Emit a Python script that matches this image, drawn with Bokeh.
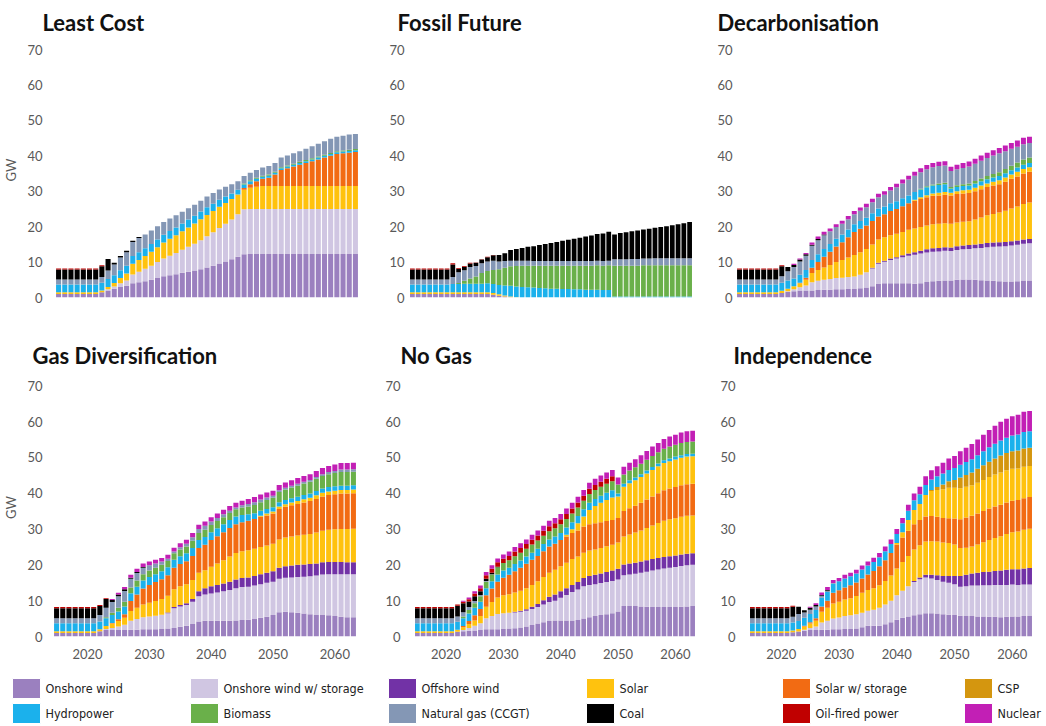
from bokeh.plotting import figure
from bokeh.layouts import column, row
from bokeh.models import ColumnDataSource, Range1d, FixedTicker
from bokeh.core.properties import value
from bokeh.embed import file_html
from bokeh.resources import INLINE

years = list(range(2015, 2064))
y_ticks = [0, 10, 20, 30, 40, 50, 60, 70]
x_ticks = [2020, 2030, 2040, 2050, 2060]

series_keys = ["on", "onst", "off", "sol", "solst", "sol2", "csp", "hyd", "bio", "gas", "coal", "oil", "nuc"]
series_colors = ["#9B80BF", "#D0C6E2", "#7232A6", "#FFC20E", "#F26B13", "#FFC20E", "#D4960F",
                 "#1BB1EC", "#6AB04A", "#8497B5", "#000000", "#C00000", "#C21FB5"]
color_of = dict(zip(series_keys, series_colors))

legend_keys = ["on", "hyd", "onst", "bio", "off", "gas", "sol", "coal", "solst", "oil", "csp", "nuc"]
legend_labels = ["Onshore wind", "Hydropower", "Onshore wind w/ storage", "Biomass", "Offshore wind",
                 "Natural gas (CCGT)", "Solar", "Coal", "Solar w/ storage", "Oil-fired power", "CSP", "Nuclear"]

# ---------------- Least Cost ----------------
lc_on = [1, 1, 1, 1, 1, 1, 1,
         1.5, 2.0, 2.5, 3.0, 3.3, 4.0, 4.3, 4.6,
         5.0, 5.5, 6.0, 6.3, 6.6, 7.0, 7.3, 7.6, 8.0, 8.5,
         9.0, 9.6, 10.2, 10.8, 11.5, 12.2, 12.3, 12.3, 12.3, 12.3,
         12.3, 12.3, 12.3, 12.3, 12.3, 12.3, 12.3, 12.3, 12.3,
         12.3, 12.3, 12.3, 12.3, 12.3]
lc_onst = [0, 0, 0, 0, 0, 0, 0,
           0, 0.3, 0.6, 1.0, 1.5, 2.5, 3.0, 3.5,
           4.0, 4.5, 5.0, 5.5, 6.0, 6.5, 7.0, 7.6, 8.2, 8.8,
           9.4, 10.0, 10.6, 11.2, 12.0, 12.7, 12.7, 12.7, 12.7, 12.7,
           12.7, 12.7, 12.7, 12.7, 12.7, 12.7, 12.7, 12.7, 12.7,
           12.7, 12.7, 12.7, 12.7, 12.7]
lc_sol = [0.5, 0.5, 0.5, 0.5, 0.5, 0.5, 0.5,
          0.5, 0.7, 1.0, 1.5, 2.0, 3.0, 3.3, 3.6,
          3.9, 4.2, 4.5, 4.8, 5.0, 5.2, 5.5, 5.7, 5.9, 6.0,
          6.0, 6.0, 5.9, 5.8, 5.6, 5.5, 6.0, 6.3, 6.5, 6.5,
          6.5, 6.5, 6.5, 6.5, 6.5, 6.5, 6.5, 6.5, 6.5,
          6.5, 6.5, 6.5, 6.5, 6.5]
lc_solst = [0, 0, 0, 0, 0, 0, 0,
            0, 0, 0, 0, 0, 0, 0, 0,
            0, 0, 0, 0, 0, 0, 0, 0, 0, 0,
            0, 0, 0, 0, 0, 0.5, 1.0, 1.5, 2.0, 2.3,
            3.2, 4.5, 5.0, 5.5, 6.0, 6.5, 7.0, 7.5, 8.0,
            8.5, 9.0, 9.2, 9.4, 9.6]
lc_hyd = [2.2, 2.2, 2.2, 2.2, 2.2, 2.2, 2.2,
          2.2, 2.2, 2.2, 2.2, 2.2, 2.2, 2.2, 2.2,
          2.2, 2.2, 2.2, 2.2, 2.2, 2.2, 2.2, 2.2, 2.2, 2.2,
          2.1, 2.0, 1.8, 1.6, 1.3, 1.0, 0.8, 0.7, 0.6, 0.6,
          0.5, 0.5, 0.5, 0.5, 0.5, 0.5, 0.5, 0.5, 0.5,
          0.5, 0.5, 0.5, 0.5, 0.5]
lc_bio = [0, 0, 0, 0, 0, 0, 0,
          0, 0, 0, 0, 0, 0, 0, 0,
          0, 0, 0, 0, 0, 0, 0, 0, 0, 0,
          0, 0, 0, 0, 0, 0.3, 0.3, 0.3, 0.3, 0.3,
          0.3, 0.3, 0.3, 0.3, 0.3, 0.3, 0.3, 0.3, 0.3,
          0.3, 0.3, 0.3, 0.3, 0.3]
lc_gas = [1.4, 1.4, 1.4, 1.4, 1.4, 1.4, 1.4,
          1.6, 2.4, 3.0, 3.6, 3.8, 4.0, 4.0, 3.9,
          3.8, 3.7, 3.6, 3.5, 3.4, 3.3, 3.2, 3.1, 3.0, 3.0,
          3.0, 2.9, 2.8, 2.6, 2.4, 2.1, 2.1, 2.2, 2.3, 2.4,
          2.5, 2.7, 2.8, 2.9, 3.0, 3.2, 3.4, 3.6, 3.8,
          4.0, 4.1, 4.2, 4.3, 4.3]
lc_coal = [2.8, 2.8, 2.8, 2.8, 2.8, 2.8, 2.8,
           3.0, 3.3, 0.5, 0.4, 0.4, 0.3, 0.3, 0,
           0, 0, 0, 0, 0, 0, 0, 0, 0, 0,
           0, 0, 0, 0, 0, 0, 0, 0, 0, 0,
           0, 0, 0, 0, 0, 0, 0, 0, 0,
           0, 0, 0, 0, 0]
lc_oil = [0.3, 0.3, 0.3, 0.3, 0.3, 0.3, 0.3,
          0.3, 0, 0, 0, 0, 0, 0, 0,
          0, 0, 0, 0, 0, 0, 0, 0, 0, 0,
          0, 0, 0, 0, 0, 0, 0, 0, 0, 0,
          0, 0, 0, 0, 0, 0, 0, 0, 0,
          0, 0, 0, 0, 0]

# ---------------- Fossil Future ----------------
ff_on = [1, 1, 1, 1, 1, 1, 1,
         1, 1, 1, 1, 1, 1, 1, 0.8,
         0.5, 0.3, 0.1, 0, 0, 0, 0, 0, 0, 0,
         0, 0, 0, 0, 0, 0, 0, 0, 0, 0,
         0, 0, 0, 0, 0, 0, 0, 0, 0,
         0, 0, 0, 0, 0]
ff_sol = [0.5, 0.5, 0.5, 0.5, 0.5, 0.5, 0.5,
          0.5, 0.5, 0.5, 0.5, 0.5, 0.5, 0.5, 0.5,
          0.4, 0.3, 0.2, 0.1, 0, 0, 0, 0, 0, 0,
          0, 0, 0, 0, 0, 0, 0, 0, 0, 0,
          0, 0, 0, 0, 0, 0, 0, 0, 0,
          0, 0, 0, 0, 0]
ff_hyd = [2.2, 2.2, 2.2, 2.2, 2.2, 2.2, 2.2,
          2.3, 2.3, 2.4, 2.4, 2.4, 2.4, 2.5, 2.5,
          2.6, 2.8, 3.0, 3.0, 3.0, 2.9, 2.8, 2.7, 2.6, 2.5,
          2.5, 2.4, 2.4, 2.3, 2.3, 2.2, 2.2, 2.2, 2.1, 2.1,
          0.3, 0.3, 0.3, 0.3, 0.3, 0.3, 0.3, 0.3, 0.3,
          0.3, 0.3, 0.3, 0.3, 0.3]
ff_bio = [0, 0, 0, 0, 0, 0, 0,
          0, 0.3, 0.8, 1.5, 2.0, 3.0, 3.5, 4.0,
          4.5, 5.0, 5.5, 5.8, 6.0, 6.1, 6.2, 6.3, 6.4, 6.5,
          6.5, 6.6, 6.6, 6.7, 6.7, 6.8, 6.8, 6.9, 6.9, 7.0,
          8.7, 8.7, 8.7, 8.7, 8.7, 8.8, 8.8, 8.8, 8.8,
          8.8, 8.8, 8.8, 8.8, 8.8]
ff_gas = [1.4, 1.4, 1.4, 1.4, 1.4, 1.4, 1.4,
          2.0, 3.0, 3.0, 3.2, 3.0, 2.8, 2.7, 2.6,
          2.2, 1.9, 1.6, 1.5, 1.4, 1.4, 1.3, 1.3, 1.3, 1.3,
          1.3, 1.3, 1.3, 1.3, 1.3, 1.3, 1.3, 1.3, 1.3, 1.3,
          1.8, 1.8, 1.8, 1.9, 1.9, 1.9, 1.9, 2.0, 2.0,
          2.0, 2.0, 2.0, 2.0, 2.0]
ff_coal = [2.8, 2.8, 2.8, 2.8, 2.8, 2.8, 2.8,
           3.5, 1.0, 1.0, 1.0, 0.9, 1.0, 1.2, 1.5,
           1.8, 2.2, 3.0, 3.3, 3.6, 3.9, 4.2, 4.5, 4.8, 5.1,
           5.4, 5.7, 6.0, 6.3, 6.6, 6.9, 7.2, 7.5, 7.8, 8.2,
           7.0, 7.4, 7.6, 7.8, 8.0, 8.2, 8.4, 8.6, 8.8,
           9.0, 9.3, 9.6, 9.9, 10.2]
ff_oil = [0.3, 0.3, 0.3, 0.3, 0.3, 0.3, 0.3,
          0.4, 0.2, 0.2, 0.2, 0.1, 0.1, 0.1, 0.1,
          0, 0, 0, 0, 0, 0, 0, 0, 0, 0,
          0, 0, 0, 0, 0, 0, 0, 0, 0, 0,
          0, 0, 0, 0, 0, 0, 0, 0, 0,
          0, 0, 0, 0, 0]

# ---------------- Decarbonisation ----------------
dc_on = [1, 1, 1, 1, 1, 1, 1,
         1.3, 1.6, 1.8, 2.0, 2.0, 2.0, 2.1, 2.2,
         2.2, 2.3, 2.3, 2.4, 2.4, 2.6, 2.8, 3.2, 3.8, 4.0,
         4.0, 4.0, 4.0, 4.0, 3.9, 4.0, 4.4, 4.6, 4.7, 4.8,
         4.8, 5.0, 5.1, 5.1, 5.0, 4.9, 4.8, 4.7, 4.6,
         4.5, 4.5, 4.6, 4.8, 4.8]
dc_onst = [0, 0, 0, 0, 0, 0, 0,
           0, 0.2, 0.5, 0.9, 1.4, 2.3, 2.6, 2.8,
           3.0, 3.2, 3.3, 3.4, 3.5, 3.8, 4.3, 5.0, 5.7, 6.1,
           6.6, 7.0, 7.4, 7.8, 8.2, 8.4, 8.3, 8.3, 8.3, 8.4,
           8.3, 8.4, 8.5, 8.6, 8.9, 9.1, 9.4, 9.6, 9.8,
           10.0, 10.2, 10.3, 10.4, 10.5]
dc_off = [0, 0, 0, 0, 0, 0, 0,
          0, 0, 0, 0, 0, 0, 0, 0,
          0, 0, 0, 0, 0, 0, 0, 0.2, 0.3, 0.3,
          0.4, 0.4, 0.5, 0.6, 0.7, 0.8, 0.9, 1.0, 1.0, 1.0,
          1.0, 1.1, 1.1, 1.1, 1.1, 1.2, 1.2, 1.2, 1.2,
          1.2, 1.2, 1.2, 1.2, 1.2]
dc_sol = [0.5, 0.5, 0.5, 0.5, 0.5, 0.5, 0.5,
          0.6, 0.7, 0.9, 1.1, 1.6, 2.6, 3.1, 3.5,
          4.0, 4.5, 5.0, 5.5, 6.1, 6.4, 6.6, 6.6, 6.6, 6.6,
          6.6, 6.6, 6.6, 6.7, 6.7, 6.7, 6.7, 6.8, 6.8, 6.8,
          6.7, 6.7, 6.7, 6.7, 7.0, 7.4, 7.8, 8.1, 8.4,
          8.8, 9.2, 9.6, 10.0, 10.3]
dc_solst = [0, 0, 0, 0, 0, 0, 0,
            0, 0, 0, 0.2, 0.6, 1.5, 2.2, 3.0,
            3.7, 4.4, 5.0, 5.7, 6.5, 6.6, 6.6, 6.6, 6.5, 6.5,
            6.8, 7.0, 7.3, 7.5, 7.8, 7.9, 8.0, 8.0, 8.0, 8.0,
            8.0, 8.0, 8.0, 8.0, 8.0, 8.0, 8.0, 8.0, 8.0,
            8.2, 8.4, 8.5, 8.6, 8.7]
dc_sol2 = [0, 0, 0, 0, 0, 0, 0,
           0, 0, 0, 0, 0, 0, 0, 0,
           0, 0, 0, 0, 0, 0, 0, 0, 0, 0,
           0, 0, 0, 0, 0.3, 0.5, 0.6, 0.7, 0.8, 0.8,
           0.8, 0.8, 0.9, 0.9, 1.0, 1.0, 1.0, 1.1, 1.1,
           1.2, 1.2, 1.3, 1.3, 1.3]
dc_hyd = [2.2, 2.2, 2.2, 2.2, 2.2, 2.2, 2.2,
          2.3, 2.3, 2.2, 2.2, 2.2, 2.2, 2.2, 2.2,
          2.2, 2.2, 2.2, 2.2, 2.2, 2.2, 2.2, 2.2, 2.2, 2.2,
          2.2, 2.2, 2.2, 2.2, 2.2, 2.2, 2.2, 2.2, 2.2, 2.2,
          1.2, 1.2, 1.2, 1.2, 1.2, 1.2, 1.2, 1.2, 1.2,
          1.2, 1.2, 1.2, 1.2, 1.2]
dc_bio = [0, 0, 0, 0, 0, 0, 0,
          0, 0, 0, 0, 0, 0, 0, 0,
          0, 0, 0, 0, 0, 0, 0, 0, 0, 0,
          0, 0, 0, 0, 0, 0.2, 0.3, 0.3, 0.4, 0.4,
          0.4, 0.5, 0.5, 0.6, 0.7, 0.8, 0.9, 1.0, 1.1,
          1.2, 1.3, 1.4, 1.5, 1.5]
dc_gas = [1.4, 1.4, 1.4, 1.4, 1.4, 1.4, 1.4,
          1.8, 2.6, 3.2, 3.8, 4.0, 4.0, 4.0, 3.9,
          3.6, 3.3, 3.0, 2.9, 2.8, 2.9, 3.0, 3.1, 3.2, 3.3,
          3.6, 3.9, 4.2, 4.5, 4.6, 4.7, 4.8, 4.9, 4.9, 4.9,
          4.5, 4.5, 4.6, 4.8, 4.9, 5.0, 5.1, 5.2, 5.3,
          5.0, 4.8, 4.5, 4.3, 4.1]
dc_coal = [2.8, 2.8, 2.8, 2.8, 2.8, 2.8, 2.8,
           2.8, 1.2, 0.6, 0.5, 0.4, 0.3, 0.3, 0.2,
           0, 0, 0, 0, 0, 0, 0, 0, 0, 0,
           0, 0, 0, 0, 0, 0, 0, 0, 0, 0,
           0, 0, 0, 0, 0, 0, 0, 0, 0,
           0, 0, 0, 0, 0]
dc_oil = [0.3, 0.3, 0.3, 0.3, 0.3, 0.3, 0.3,
          0.3, 0, 0, 0, 0, 0, 0, 0,
          0, 0, 0, 0, 0, 0, 0, 0, 0, 0,
          0, 0, 0, 0, 0, 0, 0, 0, 0, 0,
          0, 0, 0, 0, 0, 0, 0, 0, 0,
          0, 0, 0, 0, 0]
dc_nuc = [0, 0, 0, 0, 0, 0, 0,
          0, 0, 0.3, 0.3, 0.4, 0.6, 0.7, 0.8,
          0.8, 0.8, 0.9, 0.9, 0.9, 0.9, 1.0, 1.0, 1.0, 1.0,
          1.0, 1.0, 1.1, 1.1, 1.1, 1.1, 1.2, 1.2, 1.2, 1.2,
          1.2, 1.3, 1.4, 1.4, 1.4, 1.5, 1.5, 1.5, 1.5,
          1.6, 1.6, 1.7, 1.8, 1.8]

# ---------------- Gas Diversification ----------------
gd_on = [1, 1, 1, 1, 1, 1, 1,
         1.5, 1.8, 1.8, 1.8, 1.8, 1.9, 1.9, 2.0,
         2.0, 2.0, 2.1, 2.2, 2.4, 2.7, 3.0, 3.5, 4.2, 4.4,
         4.4, 4.4, 4.4, 4.4, 4.5, 4.6, 4.7, 4.9, 5.2, 5.5,
         6.0, 6.8, 6.9, 6.8, 6.6, 6.4, 6.2, 6.0, 6.0,
         5.9, 5.7, 5.5, 5.4, 5.4]
gd_onst = [0, 0, 0, 0, 0, 0, 0,
           0, 0.3, 0.6, 1.0, 1.5, 2.5, 3.0, 3.4,
           3.6, 3.8, 4.0, 4.3, 5.5, 5.7, 5.8, 6.2, 7.0, 7.3,
           7.6, 7.9, 8.2, 8.6, 9.0, 9.2, 9.2, 9.3, 9.4, 9.5,
           9.3, 9.3, 9.5, 9.7, 10.0, 10.3, 10.6, 11.0, 11.3,
           11.5, 11.7, 11.9, 12.0, 12.0]
gd_off = [0, 0, 0, 0, 0, 0, 0,
          0, 0, 0, 0, 0, 0, 0, 0,
          0, 0, 0, 0.2, 0.3, 0.4, 0.5, 0.8, 1.4, 1.8,
          2.0, 2.1, 2.2, 2.3, 2.4, 2.5, 2.6, 2.7, 2.8, 2.8,
          2.9, 3.1, 3.2, 3.3, 3.4, 3.4, 3.4, 3.4, 3.4,
          3.4, 3.4, 3.4, 3.3, 3.3]
gd_sol = [0.5, 0.5, 0.5, 0.5, 0.5, 0.5, 0.5,
          0.5, 0.8, 1.2, 1.5, 1.9, 2.7, 3.1, 3.5,
          3.8, 4.1, 4.4, 4.7, 5.0, 5.2, 5.3, 5.3, 5.2, 5.0,
          5.5, 6.0, 6.5, 7.0, 7.4, 7.5, 7.6, 7.6, 7.6, 7.6,
          7.7, 7.9, 8.0, 8.1, 8.2, 8.3, 8.4, 8.6, 8.8,
          9.0, 9.1, 9.2, 9.3, 9.4]
gd_solst = [0, 0, 0, 0, 0, 0, 0,
            0, 0, 0.2, 0.5, 1.0, 2.8, 3.7, 4.5,
            5.0, 5.3, 5.5, 5.7, 6.0, 6.2, 6.4, 6.7, 6.9, 7.1,
            7.4, 7.6, 7.8, 8.0, 8.0, 8.1, 8.2, 8.3, 8.4, 8.4,
            8.4, 8.5, 8.6, 8.7, 8.8, 9.0, 9.2, 9.4, 9.6,
            9.7, 9.8, 9.9, 9.9, 9.9]
gd_sol2 = [0, 0, 0, 0, 0, 0, 0,
           0, 0, 0, 0, 0, 0, 0, 0,
           0, 0, 0, 0, 0, 0, 0, 0, 0, 0,
           0, 0, 0, 0, 0, 0, 0, 0, 0.3, 0.5,
           0.6, 0.7, 0.7, 0.8, 0.8, 0.9, 0.9, 1.0, 1.0,
           1.0, 1.0, 1.0, 1.0, 1.0]
gd_hyd = [2.2, 2.2, 2.2, 2.2, 2.2, 2.2, 2.2,
          2.2, 2.2, 2.2, 2.2, 2.2, 2.2, 2.2, 2.2,
          2.2, 2.2, 2.2, 2.2, 2.2, 2.2, 2.2, 2.2, 2.2, 2.2,
          2.2, 2.2, 2.2, 2.2, 2.2, 2.0, 1.8, 1.6, 1.4, 1.3,
          1.2, 1.2, 1.2, 1.2, 1.2, 1.2, 1.2, 1.2, 1.2,
          1.2, 1.2, 1.2, 1.2, 1.2]
gd_bio = [0, 0, 0, 0, 0, 0, 0,
          0, 0.3, 0.6, 1.0, 1.3, 1.6, 1.7, 1.8,
          1.8, 1.8, 1.8, 1.8, 1.8, 1.9, 1.9, 2.0, 2.0, 2.0,
          2.0, 2.0, 2.0, 2.0, 2.0, 2.1, 2.2, 2.3, 2.4, 2.5,
          2.6, 2.8, 2.9, 3.0, 3.1, 3.2, 3.3, 3.4, 3.5,
          3.6, 3.7, 3.8, 3.8, 3.8]
gd_gas = [1.4, 1.4, 1.4, 1.4, 1.4, 1.4, 1.4,
          1.8, 2.6, 3.0, 3.2, 3.0, 2.4, 2.1, 1.8,
          1.5, 1.2, 0.9, 0.6, 0.5, 0.6, 0.8, 1.0, 1.1, 1.1,
          1.0, 0.9, 0.8, 0.6, 0.5, 0.6, 0.7, 0.8, 0.7, 0.7,
          0.6, 0.5, 0.5, 0.5, 0.5, 0.5, 0.5, 0.5, 0.5,
          0.6, 0.6, 0.7, 0.7, 0.7]
gd_coal = [2.8, 2.8, 2.8, 2.8, 2.8, 2.8, 2.8,
           2.5, 2.5, 0.6, 0.5, 0.5, 0.3, 0.3, 0.2,
           0, 0, 0, 0, 0, 0, 0, 0, 0, 0,
           0, 0, 0, 0, 0, 0, 0, 0, 0, 0,
           0, 0, 0, 0, 0, 0, 0, 0, 0,
           0, 0, 0, 0, 0]
gd_oil = [0.3, 0.3, 0.3, 0.3, 0.3, 0.3, 0.3,
          0.3, 0.2, 0, 0, 0, 0, 0, 0,
          0, 0, 0, 0, 0, 0, 0, 0, 0, 0,
          0, 0, 0, 0, 0, 0, 0, 0, 0, 0,
          0, 0, 0, 0, 0, 0, 0, 0, 0,
          0, 0, 0, 0, 0]
gd_nuc = [0, 0, 0, 0, 0, 0, 0,
          0, 0, 0.3, 0.5, 0.6, 0.8, 0.9, 1.0,
          1.0, 1.0, 1.0, 1.1, 1.1, 1.1, 1.1, 1.2, 1.2, 1.2,
          1.2, 1.2, 1.3, 1.3, 1.3, 1.3, 1.4, 1.4, 1.4, 1.4,
          1.4, 1.5, 1.5, 1.5, 1.6, 1.6, 1.6, 1.7, 1.7,
          1.7, 1.8, 1.8, 1.8, 1.8]

# ---------------- No Gas ----------------
ng_on = [1, 1, 1, 1, 1, 1, 1,
         1.3, 1.5, 1.6, 1.7, 1.8, 2.0, 2.0, 2.0,
         2.1, 2.2, 2.3, 2.5, 2.8, 3.2, 3.6, 4.0, 4.3, 4.5,
         4.5, 4.5, 4.5, 4.6, 5.0, 5.4, 5.7, 6.0, 6.2, 6.5,
         7.0, 8.5, 8.5, 8.5, 8.4, 8.3, 8.2, 8.2, 8.2,
         8.2, 8.2, 8.3, 8.4, 8.5]
ng_onst = [0, 0, 0, 0, 0, 0, 0,
           0, 0.3, 0.8, 1.3, 1.9, 3.1, 3.7, 4.3,
           4.4, 4.4, 4.4, 4.4, 4.4, 4.5, 4.6, 4.9, 5.3, 5.5,
           6.3, 7.1, 7.9, 8.5, 9.0, 9.0, 8.9, 8.9, 9.0, 9.0,
           8.9, 8.6, 8.8, 9.0, 9.4, 9.8, 10.2, 10.5, 10.8,
           11.0, 11.2, 11.4, 11.5, 11.5]
ng_off = [0, 0, 0, 0, 0, 0, 0,
          0, 0, 0, 0, 0, 0, 0, 0,
          0, 0, 0.2, 0.3, 0.4, 0.6, 0.9, 1.2, 1.5, 1.7,
          1.8, 1.9, 2.0, 2.1, 2.3, 2.5, 2.6, 2.7, 2.8, 2.9,
          3.0, 3.0, 3.1, 3.1, 3.1, 3.2, 3.2, 3.2, 3.2,
          3.2, 3.2, 3.2, 3.2, 3.2]
ng_sol = [0.5, 0.5, 0.5, 0.5, 0.5, 0.5, 0.5,
          0.6, 0.8, 1.1, 1.5, 2.0, 3.2, 3.9, 4.6,
          5.0, 5.2, 5.4, 5.6, 5.9, 6.1, 6.3, 6.5, 6.7, 6.9,
          7.0, 7.1, 7.2, 7.1, 7.1, 7.1, 7.1, 7.1, 7.2, 7.2,
          7.3, 7.8, 8.1, 8.4, 8.7, 9.0, 9.4, 9.8, 10.1,
          10.3, 10.4, 10.5, 10.6, 10.6]
ng_solst = [0, 0, 0, 0, 0, 0, 0,
            0, 0.3, 0.8, 1.4, 2.0, 3.2, 3.8, 4.4,
            4.9, 5.4, 5.9, 6.4, 6.8, 7.0, 7.1, 7.2, 7.3, 7.3,
            7.3, 7.3, 7.3, 7.3, 7.3, 7.3, 7.3, 7.2, 7.0, 6.9,
            6.9, 7.1, 7.3, 7.5, 7.7, 7.9, 8.1, 8.3, 8.5,
            8.6, 8.7, 8.8, 8.8, 8.8]
ng_sol2 = [0, 0, 0, 0, 0, 0, 0,
           0, 0, 0, 0, 0, 0, 0, 0,
           0, 0, 0, 0, 0, 0, 0, 0, 0, 0,
           0, 0.5, 1.0, 2.0, 2.8, 4.0, 4.8, 5.4, 5.9, 6.3,
           6.0, 6.8, 7.0, 7.1, 7.2, 7.3, 7.4, 7.5, 7.6,
           7.6, 7.7, 7.7, 7.7, 7.7]
ng_hyd = [2.2, 2.2, 2.2, 2.2, 2.2, 2.2, 2.2,
          2.2, 2.2, 2.1, 2.1, 2.0, 2.0, 2.0, 2.0,
          2.0, 2.0, 2.0, 2.0, 2.0, 2.0, 2.0, 2.0, 2.0, 2.0,
          2.0, 2.0, 2.0, 2.0, 2.0, 2.0, 2.0, 2.0, 2.0, 2.0,
          0.8, 0.8, 0.8, 0.8, 0.8, 0.8, 0.8, 0.8, 0.8,
          0.8, 0.8, 0.7, 0.7, 0.7]
ng_bio = [0, 0, 0, 0, 0, 0, 0,
          0, 0.5, 1.0, 1.3, 1.5, 1.8, 1.9, 2.0,
          2.1, 2.1, 2.2, 2.2, 2.2, 2.3, 2.3, 2.3, 2.3, 2.3,
          2.4, 2.4, 2.4, 2.4, 2.4, 2.5, 2.5, 2.5, 2.5, 2.5,
          2.5, 2.6, 2.7, 2.8, 2.9, 3.0, 3.1, 3.1, 3.2,
          3.3, 3.3, 3.4, 3.4, 3.4]
ng_gas = [1.4, 1.4, 1.4, 1.4, 1.4, 1.4, 1.4,
          1.5, 1.2, 0.8, 0.6, 0.4, 0.2, 0.1, 0,
          0, 0, 0, 0, 0, 0, 0, 0, 0, 0,
          0, 0, 0, 0, 0, 0, 0, 0, 0, 0,
          0, 0, 0, 0, 0, 0, 0, 0, 0,
          0, 0, 0, 0, 0]
ng_coal = [2.8, 2.8, 2.8, 2.8, 2.8, 2.8, 2.8,
           3.0, 2.5, 1.6, 1.3, 1.0, 0.6, 0.4, 0.2,
           0, 0, 0, 0, 0, 0, 0, 0, 0, 0,
           0, 0, 0, 0, 0, 0, 0, 0, 0, 0,
           0, 0, 0, 0, 0, 0, 0, 0, 0,
           0, 0, 0, 0, 0]
ng_oil = [0.3, 0.3, 0.3, 0.3, 0.3, 0.3, 0.3,
          0.3, 0.4, 0.6, 0.8, 0.9, 1.0, 1.1, 1.2,
          1.2, 1.2, 1.3, 1.3, 1.3, 1.3, 1.4, 1.4, 1.4, 1.4,
          1.4, 1.4, 1.4, 1.4, 1.4, 1.4, 1.4, 1.4, 1.4, 1.4,
          0, 0, 0, 0, 0, 0, 0, 0, 0,
          0, 0, 0, 0, 0]
ng_nuc = [0, 0, 0, 0, 0, 0, 0,
          0, 0.3, 0.5, 0.6, 0.7, 0.9, 1.0, 1.1,
          1.2, 1.2, 1.3, 1.3, 1.3, 1.4, 1.4, 1.4, 1.5, 1.5,
          1.5, 1.5, 1.6, 1.6, 1.6, 1.7, 1.7, 1.7, 1.8, 1.8,
          2.0, 2.2, 2.2, 2.3, 2.4, 2.5, 2.6, 2.6, 2.7,
          2.8, 2.8, 2.9, 3.0, 3.0]

# ---------------- Independence ----------------
in_on = [1, 1, 1, 1, 1, 1, 1,
         1.2, 1.4, 1.6, 1.8, 1.8, 1.9, 1.9, 2.0,
         2.0, 2.1, 2.1, 2.2, 2.6, 3.0, 3.0, 3.0, 3.4, 4.0,
         4.7, 5.2, 5.6, 5.9, 6.2, 6.5, 6.5, 6.4, 6.2, 6.1,
         6.0, 5.8, 5.7, 5.7, 5.6, 5.6, 5.5, 5.5, 5.4,
         5.5, 5.6, 5.6, 5.7, 5.7]
in_onst = [0, 0, 0, 0, 0, 0, 0,
           0, 0, 0.3, 0.6, 1.0, 2.0, 2.5, 3.0,
           3.3, 3.6, 3.8, 4.0, 4.0, 4.2, 4.5, 5.0, 5.5, 6.0,
           6.8, 7.6, 8.4, 9.3, 9.8, 10.0, 9.7, 9.4, 9.1, 8.9,
           8.6, 8.1, 8.3, 8.5, 8.6, 8.7, 8.8, 8.9, 9.0,
           8.9, 8.9, 8.8, 8.8, 8.8]
in_off = [0, 0, 0, 0, 0, 0, 0,
          0, 0, 0, 0, 0, 0, 0, 0,
          0, 0, 0, 0, 0, 0, 0, 0, 0, 0,
          0, 0, 0, 0.3, 0.5, 0.7, 1.0, 1.3, 1.6, 1.9,
          2.3, 3.0, 3.2, 3.4, 3.6, 3.7, 3.8, 3.9, 4.0,
          4.2, 4.3, 4.4, 4.5, 4.6]
in_sol = [0.5, 0.5, 0.5, 0.5, 0.5, 0.5, 0.5,
          0.5, 0.7, 0.9, 1.2, 1.6, 3.0, 3.6, 4.2,
          4.4, 4.6, 4.8, 5.1, 5.6, 5.8, 6.0, 6.3, 6.6, 7.0,
          7.5, 8.0, 8.5, 8.8, 9.0, 9.3, 9.4, 9.4, 9.3, 9.2,
          8.8, 7.8, 7.6, 7.5, 7.9, 8.3, 8.8, 9.2, 9.6,
          10.0, 10.3, 10.5, 10.8, 11.0]
in_solst = [0, 0, 0, 0, 0, 0, 0,
            0, 0, 0.2, 0.4, 0.7, 1.5, 2.0, 3.0,
            3.2, 3.4, 3.6, 3.8, 4.0, 4.3, 4.8, 5.3, 5.8, 6.3,
            6.6, 6.8, 7.0, 7.0, 7.0, 7.0, 7.0, 6.9, 6.9, 6.9,
            7.2, 8.0, 8.4, 8.6, 8.6, 8.7, 8.8, 8.8, 8.8,
            8.8, 8.8, 8.8, 8.8, 8.8]
in_sol2 = [0, 0, 0, 0, 0, 0, 0,
           0, 0, 0, 0, 0, 0, 0, 0,
           0, 0, 0, 0, 0, 0, 0, 0, 0, 0,
           0.5, 1.5, 3.0, 4.0, 4.5, 6.0, 7.0, 7.5, 8.0, 8.5,
           8.6, 8.7, 8.6, 8.5, 8.6, 8.7, 8.8, 8.9, 9.0,
           9.0, 8.9, 8.8, 8.8, 8.7]
in_csp = [0, 0, 0, 0, 0, 0, 0,
          0, 0, 0, 0, 0, 0, 0, 0,
          0, 0, 0, 0, 0, 0, 0, 0, 0, 0,
          0, 0, 0, 0, 0, 0, 0.3, 0.8, 1.3, 1.8,
          2.2, 3.0, 3.3, 3.6, 3.9, 4.1, 4.3, 4.5, 4.7,
          4.8, 4.9, 5.0, 5.1, 5.1]
in_hyd = [2.2, 2.2, 2.2, 2.2, 2.2, 2.2, 2.2,
          2.2, 2.2, 2.2, 2.3, 2.3, 2.4, 2.4, 2.5,
          2.5, 2.5, 2.5, 2.5, 2.5, 2.5, 2.5, 2.5, 2.5, 2.5,
          2.5, 2.5, 2.6, 2.7, 2.7, 2.8, 2.9, 3.0, 3.1, 3.2,
          3.3, 3.5, 3.6, 3.7, 3.8, 3.9, 4.0, 4.1, 4.2,
          4.3, 4.4, 4.5, 4.6, 4.6]
in_gas = [1.4, 1.4, 1.4, 1.4, 1.4, 1.4, 1.4,
          1.6, 2.0, 1.5, 1.2, 1.0, 0.6, 0.4, 0.2,
          0, 0, 0, 0, 0, 0, 0, 0, 0, 0,
          0, 0, 0, 0, 0, 0, 0, 0, 0, 0,
          0, 0, 0, 0, 0, 0, 0, 0, 0,
          0, 0, 0, 0, 0]
in_coal = [2.8, 2.8, 2.8, 2.8, 2.8, 2.8, 2.8,
           2.8, 2.0, 0.6, 0.5, 0.4, 0.2, 0.2, 0,
           0, 0, 0, 0, 0, 0, 0, 0, 0, 0,
           0, 0, 0, 0, 0, 0, 0, 0, 0, 0,
           0, 0, 0, 0, 0, 0, 0, 0, 0,
           0, 0, 0, 0, 0]
in_oil = [0.3, 0.3, 0.3, 0.3, 0.3, 0.3, 0.3,
          0.3, 0, 0, 0, 0, 0, 0, 0,
          0, 0, 0, 0, 0, 0, 0, 0, 0, 0,
          0, 0, 0, 0, 0, 0, 0, 0, 0, 0,
          0, 0, 0, 0, 0, 0, 0, 0, 0,
          0, 0, 0, 0, 0]
in_nuc = [0, 0, 0, 0, 0, 0, 0,
          0, 0, 0, 0.3, 0.5, 0.7, 0.8, 0.9,
          0.9, 1.0, 1.0, 1.0, 1.1, 1.1, 1.2, 1.2, 1.3, 1.3,
          1.4, 1.5, 1.7, 1.9, 2.1, 2.4, 2.6, 2.8, 3.0, 3.2,
          3.4, 3.8, 4.0, 4.2, 4.4, 4.6, 4.8, 5.0, 5.2,
          5.3, 5.4, 5.5, 5.6, 5.6]

scenarios = [
    ("Least Cost", dict(on=lc_on, onst=lc_onst, sol=lc_sol, solst=lc_solst, hyd=lc_hyd, bio=lc_bio,
                        gas=lc_gas, coal=lc_coal, oil=lc_oil)),
    ("Fossil Future", dict(on=ff_on, sol=ff_sol, hyd=ff_hyd, bio=ff_bio, gas=ff_gas, coal=ff_coal, oil=ff_oil)),
    ("Decarbonisation", dict(on=dc_on, onst=dc_onst, off=dc_off, sol=dc_sol, solst=dc_solst, sol2=dc_sol2,
                             hyd=dc_hyd, bio=dc_bio, gas=dc_gas, coal=dc_coal, oil=dc_oil, nuc=dc_nuc)),
    ("Gas Diversification", dict(on=gd_on, onst=gd_onst, off=gd_off, sol=gd_sol, solst=gd_solst, sol2=gd_sol2,
                                 hyd=gd_hyd, bio=gd_bio, gas=gd_gas, coal=gd_coal, oil=gd_oil, nuc=gd_nuc)),
    ("No Gas", dict(on=ng_on, onst=ng_onst, off=ng_off, sol=ng_sol, solst=ng_solst, sol2=ng_sol2,
                    hyd=ng_hyd, bio=ng_bio, gas=ng_gas, coal=ng_coal, oil=ng_oil, nuc=ng_nuc)),
    ("Independence", dict(on=in_on, onst=in_onst, off=in_off, sol=in_sol, solst=in_solst, sol2=in_sol2,
                          csp=in_csp, hyd=in_hyd, gas=in_gas, coal=in_coal, oil=in_oil, nuc=in_nuc)),
]

for name, d in scenarios:
    for k, v in d.items():
        if len(v) != len(years):
            raise ValueError(f"{name} {k} has {len(v)} values")

TICK_COLOR = "#595959"

# layout parameters per panel: width, height, left, right, top, bottom, label standoff, title offset, title standoff
layout_params = [
    (365, 320, 55, 7, 40, 23, 13, -13, 13, False, True),
    (335, 320, 44, 8, 40, 23, 5, -12, 13, False, False),
    (346, 320, 36, 14, 40, 23, 4, -19, 13, False, False),
    (365, 350, 53, 9, 58, 34, 11, -21, 19, True, True),
    (335, 350, 49, 5, 58, 34, 14, -14, 19, True, False),
    (346, 350, 49, 14, 58, 34, 14, -16, 19, True, False),
]


def make_panel(name, data, params):
    w, h, bl, br, bt, bb, lso, toff, tso, show_x, gw = params
    p = figure(width=w, height=h, x_range=Range1d(2014.5, 2063.5), y_range=Range1d(0, 72),
               output_backend="svg", toolbar_location=None, title=name,
               min_border_left=bl, min_border_right=br, min_border_top=bt, min_border_bottom=bb)
    cols = {"year": years}
    for k in series_keys:
        cols[k] = data[k] if k in data else [0.0] * len(years)
    src = ColumnDataSource(cols)
    p.vbar_stack(series_keys, x="year", width=0.82, color=series_colors, line_color=None, source=src)
    p.outline_line_color = None
    p.xgrid.visible = False
    p.ygrid.visible = False
    p.background_fill_color = "white"
    p.border_fill_color = "white"

    ya = p.yaxis[0]
    ya.ticker = FixedTicker(ticks=y_ticks)
    ya.axis_line_color = None
    ya.major_tick_line_color = None
    ya.minor_tick_line_color = None
    ya.major_tick_out = 0
    ya.major_tick_in = 0
    ya.major_label_standoff = lso
    ya.major_label_text_font = "Lato"
    ya.major_label_text_font_size = "13px"
    ya.major_label_text_color = TICK_COLOR
    if gw:
        ya.axis_label = "GW"
        ya.axis_label_text_font = "Lato"
        ya.axis_label_text_font_size = "13px"
        ya.axis_label_text_font_style = "normal"
        ya.axis_label_text_color = TICK_COLOR
        ya.axis_label_standoff = 5

    xa = p.xaxis[0]
    if show_x:
        xa.ticker = FixedTicker(ticks=x_ticks)
        xa.axis_line_color = None
        xa.major_tick_line_color = None
        xa.minor_tick_line_color = None
        xa.major_tick_out = 0
        xa.major_tick_in = 0
        xa.major_label_standoff = 12
        xa.major_label_text_font = "Lato"
        xa.major_label_text_font_size = "13px"
        xa.major_label_text_color = TICK_COLOR
    else:
        xa.visible = False

    p.title.text_font = "Lato"
    p.title.text_font_style = "bold"
    p.title.text_font_size = "22px"
    p.title.text_color = "#111111"
    p.title.align = "left"
    p.title.offset = toff
    p.title.standoff = tso
    return p


panels = [make_panel(n, d, prm) for (n, d), prm in zip(scenarios, layout_params)]

# ---------------- legend strip ----------------
legend_col_x = [12, 190, 388, 586, 782, 964]
legend_row_y = [18, 43]
sw_x, sw_y, sw_c, tx_x, tx_y, tx_t = [], [], [], [], [], []
for i, (k, lab) in enumerate(zip(legend_keys, legend_labels)):
    cx = legend_col_x[i // 2]
    ry = legend_row_y[i % 2]
    sw_x.append(cx + 14)
    sw_y.append(ry)
    sw_c.append(color_of[k])
    tx_x.append(cx + 33)
    tx_y.append(ry)
    tx_t.append(lab)

lg = figure(width=1046, height=56, x_range=Range1d(0, 1046), y_range=Range1d(56, 0),
            output_backend="svg", toolbar_location=None, min_border=0,
            x_axis_type=None, y_axis_type=None)
lg.outline_line_color = None
lg.xgrid.visible = False
lg.ygrid.visible = False
lg.rect(x=sw_x, y=sw_y, width=28, height=20, fill_color=sw_c, line_color="#ffffff", line_width=1)
lg.text(x=tx_x, y=tx_y, text=tx_t, text_font=value("DejaVu Sans Condensed"), text_font_size="12.5px",
        text_color="#222222", text_baseline="middle", text_align="left")

layout = column(row(panels[0], panels[1], panels[2]), row(panels[3], panels[4], panels[5]), lg)

open("out.html", "w").write(file_html(layout, INLINE, title="Capacity by scenario"))
